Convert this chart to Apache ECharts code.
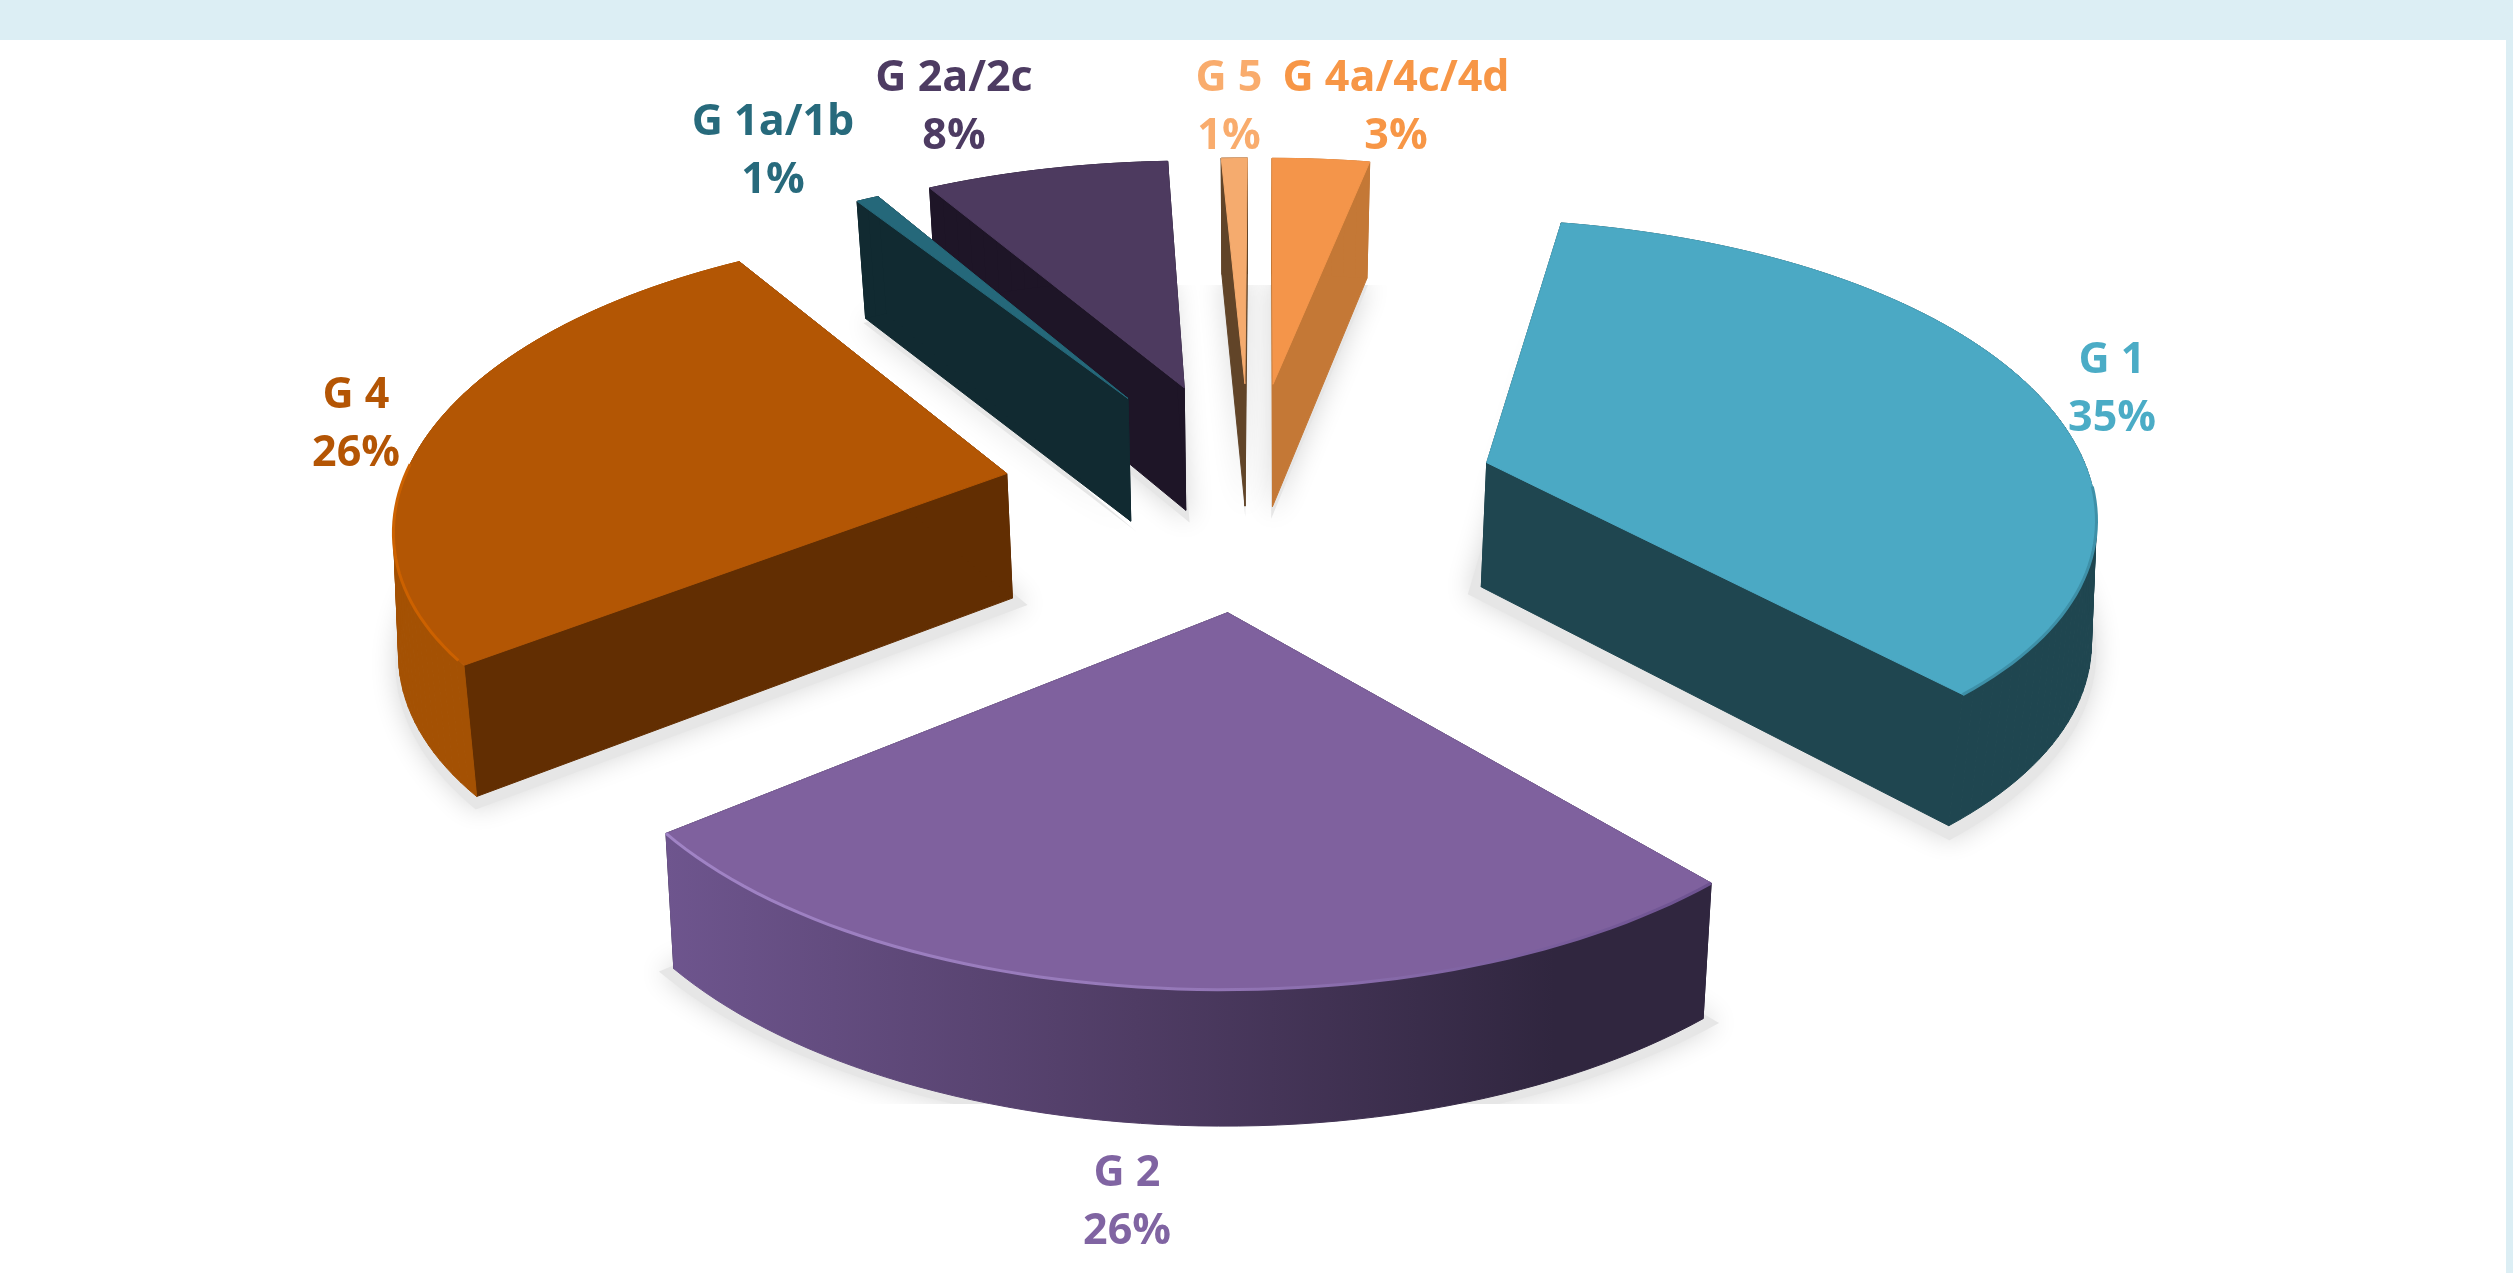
<!DOCTYPE html>
<html>
<head>
<meta charset="utf-8">
<style>html,body{margin:0;height:100%;background:#fff}#chart{width:2513px;height:1273px}</style>
<script src="https://cdn.jsdelivr.net/npm/echarts@6/dist/echarts.min.js"></script>
</head>
<body>
<div id="chart"></div>
<script>
var categories = ['G 1', 'G 2', 'G 4', 'G 1a/1b', 'G 2a/2c', 'G 5', 'G 4a/4c/4d']
// slice sizes, the printed labels are rounded by the source
var shares = [35.5, 25.6, 26.9, 0.7, 7.5, 0.8, 3.0]
var shareLabels = ['35%', '26%', '26%', '1%', '8%', '1%', '3%']

var textColors = ['#4BACC6', '#8064A2', '#B45504', '#276A7C', '#4D3B62', '#F9AC6D', '#F79646']
var topColors = ['#4BA9C4', '#7F619E', '#B35604', '#25687A', '#4D3A5F', '#F5AB6E', '#F4954A']
var wallColors = ['#1F4650', '#30263F', '#622E02', '#112A31', '#1E1527', '#614428', '#C47836']
var rimColors = ['#1F4650', '#6E558E', '#A45103', '#112A31', '#1E1527', '#614428', '#C47836']
var labelSpots = [[2112, 390], [1127, 1203], [356, 425], [773, 152], [954, 108], [1229, 108], [1396, 108]]

var firstAngle = 11
var explode = 0.4
var cx = 1250, fx = 622, fy = 216.4, y0 = 492, tilt = 0.1409
var depth = 125, taper = 0.977

// perspective of the pie plane, z is 0 on top and 1 on the bottom face
function project (X, Y, z) {
	var w = 1 - tilt * Y
	var x = fx * X / w
	var y = (fy * Y + y0) / w
	if (z) {
		x = x * (1 - (1 - taper) * z)
		y = y + depth * z * Math.pow(w, -0.4)
	}
	return [cx + x, y]
}

function rad (d) { return d * Math.PI / 180 }

var sliceInfo = []
var run = firstAngle
shares.forEach(function (v) {
	var sweep = v * 3.6
	var mid = rad(run + sweep / 2)
	sliceInfo.push({ a0: run, a1: run + sweep, ax: explode * Math.sin(mid), ay: -explode * Math.cos(mid) })
	run += sweep
})

function rimPoints (s, a0, a1, z) {
	var pts = []
	var n = Math.max(2, Math.ceil((a1 - a0) / 1.5))
	for (var i = 0; i <= n; i++) {
		var t = rad(a0 + (a1 - a0) * i / n)
		// the top outline runs a little inside a true circle at the sides
		var r = z ? 1 : 1 - 0.025 * Math.pow(Math.sin(t), 4)
		pts.push(project(s.ax + r * Math.sin(t), s.ay - r * Math.cos(t), z))
	}
	return pts
}

function poly (points, fill, z2) {
	return { type: 'polygon', z2: z2, shape: { points: points }, style: { fill: fill, stroke: fill, lineWidth: 1 } }
}

function renderSlice (params, api) {
	var i = params.dataIndex
	var s = sliceInfo[i]
	var order = Math.round(s.ay * 100) + 200
	var apex = project(s.ax, s.ay, 0)
	var apexB = project(s.ax, s.ay, 1)
	var rimTop = rimPoints(s, s.a0, s.a1, 0)
	var rimBot = rimPoints(s, s.a0, s.a1, 1)
	var n = rimTop.length - 1
	var kids = []

	// ground shadow, blurred copy of the bottom face grown a bit around its middle
	var face = [apexB].concat(rimBot)
	var mx = 0, my = 0
	face.forEach(function (p) { mx += p[0] / face.length; my += p[1] / face.length })
	var ground = face.map(function (p) {
		return [mx + (p[0] - mx) * 1.03, my + (p[1] - my) * 1.03 + 6]
	})
	kids.push({
		type: 'polygon', z2: 1, shape: { points: ground },
		style: { fill: '#E6E6E6', shadowBlur: 26, shadowColor: 'rgba(0,0,0,0.16)' },
		clipPath: { type: 'rect', shape: { x: 0, y: 285, width: 2513, height: 819 } }
	})

	kids.push(poly([apex, rimTop[0], rimBot[0], apexB], wallColors[i], order))
	kids.push(poly([apex, rimTop[n], rimBot[n], apexB], wallColors[i], order + 1))

	if (i === 1) {
		var rimFill = new echarts.graphic.LinearGradient(0, 0, 1, 0, [
			{ offset: 0, color: '#6E558E' }, { offset: 0.45, color: '#4F3C64' },
			{ offset: 0.85, color: '#30263F' }, { offset: 1, color: '#30263F' }
		])
		kids.push(poly(rimTop.concat(rimBot.slice().reverse()), rimFill, order + 2))
	} else {
		// the strip folds at the silhouette, one outline would leave a hole there
		for (var q = 0; q < n; q++) {
			kids.push(poly([rimTop[q], rimTop[q + 1], rimBot[q + 1], rimBot[q]], rimColors[i], order + 2))
		}
	}
	kids.push(poly([apex].concat(rimTop), topColors[i], order + 3))

	// soft bevel along the front edge
	if (i === 1 || i === 2 || i === 0) {
		var bevel = i === 1 ? new echarts.graphic.LinearGradient(0, 0, 1, 0, [
			{ offset: 0, color: '#A184C6' }, { offset: 0.5, color: '#9578B8' }, { offset: 1, color: '#6D5290' }
		]) : (i === 2 ? '#CC6100' : '#3E90A8')
		var from = i === 0 ? 95 : (i === 2 ? 232 : s.a0)
		var to = i === 0 ? s.a1 : (i === 2 ? 272 : s.a1)
		kids.push({
			type: 'polyline', z2: order + 4, shape: { points: rimPoints(s, from, to, 0) },
			style: { stroke: bevel, lineWidth: 3, fill: null }
		})
	}

	// label, name over share
	var spot = labelSpots[i]
	kids.push({
		type: 'text', z2: 900, x: spot[0], y: spot[1],
		style: {
			text: categories[i] + '\n' + shareLabels[i],
			fill: textColors[i], align: 'center', verticalAlign: 'middle',
			fontFamily: 'Open Sans', fontWeight: 700, fontSize: 43, lineHeight: 58
		}
	})
	return { type: 'group', children: kids }
}

var myChart = echarts.init(document.getElementById('chart'))
var option = {
	animation: false,
	backgroundColor: '#fff',
	graphic: [
		{ type: 'rect', z: -1, shape: { x: 0, y: 0, width: 2513, height: 40 }, style: { fill: '#DCEEF4' } },
		{ type: 'rect', z: -1, shape: { x: 2506, y: 0, width: 7, height: 1273 }, style: { fill: '#DCEEF4' } }
	],
	series: [{
		type: 'custom',
		coordinateSystem: 'none',
		renderItem: renderSlice,
		data: shares.map(function (v, i) { return { name: categories[i], value: v } })
	}]
}
myChart.setOption(option)
window.onresize = myChart.resize
</script>
</body>
</html>
